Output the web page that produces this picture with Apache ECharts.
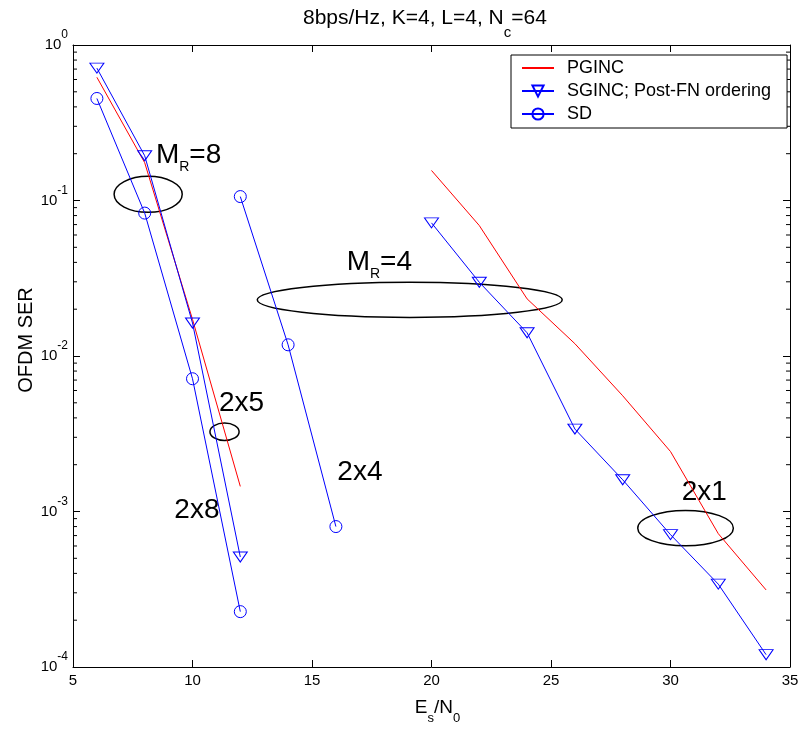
<!DOCTYPE html>
<html>
<head>
<meta charset="utf-8">
<script src="https://cdn.jsdelivr.net/npm/echarts/dist/echarts.min.js"></script>
<style>
html, body { margin: 0; padding: 0; background: #fff; }
#main { width: 805px; height: 730px; }
</style>
</head>
<body>
<div id="main"></div>
<script>
// values: OFDM SER vs Es/N0
var pgincX8 = [6, 8, 10, 12];
var pgincY8 = [0.62, 0.175, 0.0172, 0.00145];
var pgincX1 = [20, 22, 24, 26, 28, 30, 32, 34];
var pgincY1 = [0.156, 0.069, 0.0233, 0.0120, 0.00555, 0.00243, 0.00072, 0.000313];
var sgincX5 = [6, 8, 10, 12];
var sgincY5 = [0.71, 0.194, 0.0163, 0.00051];
var sgincX1 = [20, 22, 24, 26, 28, 30, 32, 34];
var sgincY1 = [0.0718, 0.0298, 0.0141, 0.00339, 0.0016, 0.00071, 0.000341, 0.00012];
var sdX8 = [6, 8, 10, 12];
var sdY8 = [0.453, 0.083, 0.00714, 0.000227];
var sdX4 = [12, 14, 16];
var sdY4 = [0.106, 0.0118, 0.0008];

var legendNames = ['PGINC', 'SGINC; Post-FN ordering', 'SD'];

// annotation ellipses, [xmin, ymin, xmax, ymax] in data units
var ellipses = [
    [6.72, 0.0839, 9.57, 0.143],
    [12.71, 0.0177, 25.47, 0.0298],
    [10.73, 0.00286, 11.95, 0.00371],
    [28.63, 0.000602, 32.63, 0.001015]
];
// annotation texts and their anchor (left edge, middle of caps)
var noteText = ['{m|M}{s|R}{m|=8}', '{m|M}{s|R}{m|=4}', '{m|2x5}', '{m|2x8}', '{m|2x4}', '{m|2x1}'];
var notePos = [[8.47, 0.1925], [16.45, 0.0393], [11.11, 0.0049], [9.24, 0.0010], [16.06, 0.00177], [30.47, 0.00131]];

// minor tick values of the log axis
var minorMult = [2, 3, 4, 5, 6, 7, 8, 9];
var decades = [1e-4, 1e-3, 1e-2, 1e-1];

var font = "'Liberation Sans', Arial, Helvetica, sans-serif";
var blue = '#0000ff';
var red = '#ff0000';

function pairs(xs, ys) {
    return xs.map(function (x, i) { return [x, ys[i]]; });
}

var minorVals = [];
decades.forEach(function (d) {
    minorMult.forEach(function (m) { minorVals.push([5, m * d]); });
});

function redLine(xs, ys) {
    return {
        name: 'PGINC', type: 'line', data: pairs(xs, ys),
        symbol: 'none', color: red,
        lineStyle: { color: red, width: 1 }
    };
}
function triLine(xs, ys) {
    return {
        name: 'SGINC; Post-FN ordering', type: 'line', data: pairs(xs, ys),
        symbol: 'triangle', symbolRotate: 180, symbolSize: [14, 10], color: blue,
        lineStyle: { color: blue, width: 1 },
        itemStyle: { color: 'rgba(0,0,0,0)', borderColor: blue, borderWidth: 1 }
    };
}
function circLine(xs, ys) {
    return {
        name: 'SD', type: 'line', data: pairs(xs, ys),
        symbol: 'circle', symbolSize: 12, color: blue,
        lineStyle: { color: blue, width: 1 },
        itemStyle: { color: 'rgba(0,0,0,0)', borderColor: blue, borderWidth: 1 }
    };
}

var chart = echarts.init(document.getElementById('main'));

var option = {
    animation: false,
    backgroundColor: '#fff',
    title: {
        text: '{t|8bps/Hz, K=4, L=4, N}{s|c}{t|=64}',
        left: 303, top: 8, padding: 0,
        textStyle: {
            fontWeight: 'normal',
            rich: {
                t: { fontFamily: font, fontSize: 21, fontWeight: 'normal', lineHeight: 24, verticalAlign: 'top', color: '#000' },
                s: { fontFamily: font, fontSize: 15, fontWeight: 'normal', lineHeight: 49, verticalAlign: 'middle', color: '#000' }
            }
        }
    },
    legend: {
        data: [{ name: legendNames[0], itemStyle: { opacity: 0 } }, legendNames[1], legendNames[2]],
        orient: 'vertical',
        left: 511, top: 55,
        padding: [4, 16, 5, 10],
        itemGap: 5, itemWidth: 32, itemHeight: 14,
        backgroundColor: '#fff', borderColor: '#000', borderWidth: 1, borderRadius: 0,
        selectedMode: false,
        textStyle: { fontFamily: font, fontSize: 18, lineHeight: 18, color: '#000', padding: [0, 0, 0, 8] }
    },
    grid: { left: 73, right: 15, top: 45, bottom: 63 },
    xAxis: [{
        type: 'value', min: 5, max: 35, interval: 5,
        name: '{e|E}{s|s}{e|/N}{s|0}', nameLocation: 'middle', nameGap: 31,
        nameTextStyle: {
            padding: [0, 0, 0, 12],
            rich: {
                e: { fontFamily: font, fontSize: 19, lineHeight: 22, verticalAlign: 'top', color: '#000' },
                s: { fontFamily: font, fontSize: 13, lineHeight: 40, verticalAlign: 'middle', color: '#000' }
            }
        },
        axisLine: { lineStyle: { color: '#000', width: 1 } },
        axisTick: { inside: true, length: 7, lineStyle: { color: '#000' } },
        axisLabel: { fontFamily: font, fontSize: 15, color: '#000', margin: 6, showMinLabel: true, showMaxLabel: true },
        splitLine: { show: false }
    }, {
        type: 'value', min: 5, max: 35, interval: 5, position: 'top',
        axisLine: { lineStyle: { color: '#000', width: 1 } },
        axisTick: { inside: true, length: 7, lineStyle: { color: '#000' } },
        axisLabel: { show: false },
        splitLine: { show: false }
    }],
    yAxis: [{
        type: 'log', logBase: 10, min: 1e-4, max: 1,
        name: 'OFDM SER', nameLocation: 'middle', nameGap: 37, nameMoveOverlap: false,
        nameTextStyle: { fontFamily: font, fontSize: 20, lineHeight: 20, color: '#000', padding: [0, 0, 0, 32] },
        axisLine: { show: true, lineStyle: { color: '#000', width: 1 } },
        axisTick: { show: true, inside: true, length: 7, lineStyle: { color: '#000' } },
        axisLabel: {
            margin: 5,
            formatter: function (v) {
                return '{b|10}{e|' + Math.round(Math.log10(v)) + '}';
            },
            rich: {
                b: { fontFamily: font, fontSize: 15, lineHeight: 32, verticalAlign: 'middle', color: '#000' },
                e: { fontFamily: font, fontSize: 12, lineHeight: 12, verticalAlign: 'top', color: '#000' }
            }
        },
        splitLine: { show: false }
    }, {
        type: 'log', logBase: 10, min: 1e-4, max: 1, position: 'right',
        axisLine: { show: true, lineStyle: { color: '#000', width: 1 } },
        axisTick: { show: true, inside: true, length: 7, lineStyle: { color: '#000' } },
        axisLabel: { show: false },
        splitLine: { show: false }
    }],
    series: [
        redLine(pgincX8, pgincY8),
        redLine(pgincX1, pgincY1),
        triLine(sgincX5, sgincY5),
        triLine(sgincX1, sgincY1),
        circLine(sdX8, sdY8),
        circLine(sdX4, sdY4),
        {
            name: 'minor', type: 'custom', silent: true, clip: false,
            data: minorVals,
            renderItem: function (params, api) {
                var l = api.coord([5, api.value(1)]);
                var r = api.coord([35, api.value(1)]);
                return {
                    type: 'group',
                    children: [
                        { type: 'line', shape: { x1: l[0], y1: l[1], x2: l[0] + 4, y2: l[1] }, style: { stroke: '#000', lineWidth: 1 } },
                        { type: 'line', shape: { x1: r[0], y1: r[1], x2: r[0] - 4, y2: r[1] }, style: { stroke: '#000', lineWidth: 1 } }
                    ]
                };
            }
        },
        {
            name: 'rings', type: 'custom', silent: true, clip: false,
            data: ellipses,
            encode: { x: [0, 2], y: [1, 3] },
            renderItem: function (params, api) {
                var p1 = api.coord([api.value(0), api.value(1)]);
                var p2 = api.coord([api.value(2), api.value(3)]);
                return {
                    type: 'ellipse',
                    shape: {
                        cx: (p1[0] + p2[0]) / 2, cy: (p1[1] + p2[1]) / 2,
                        rx: Math.abs(p2[0] - p1[0]) / 2, ry: Math.abs(p2[1] - p1[1]) / 2
                    },
                    style: { fill: 'none', stroke: '#000', lineWidth: 1.5 }
                };
            }
        },
        {
            name: 'notes', type: 'custom', silent: true, clip: false,
            data: notePos.map(function (p, i) { return [p[0], p[1], i]; }),
            renderItem: function (params, api) {
                var p = api.coord([api.value(0), api.value(1)]);
                return {
                    type: 'text',
                    x: p[0], y: p[1] - 15,
                    style: {
                        text: noteText[api.value(2)],
                        align: 'left', verticalAlign: 'top',
                        rich: {
                            m: { fontFamily: font, fontSize: 28, lineHeight: 30, verticalAlign: 'top', fill: '#000' },
                            s: { fontFamily: font, fontSize: 14, lineHeight: 51, verticalAlign: 'middle', fill: '#000' }
                        }
                    }
                };
            }
        }
    ]
};

chart.setOption(option);
</script>
</body>
</html>
